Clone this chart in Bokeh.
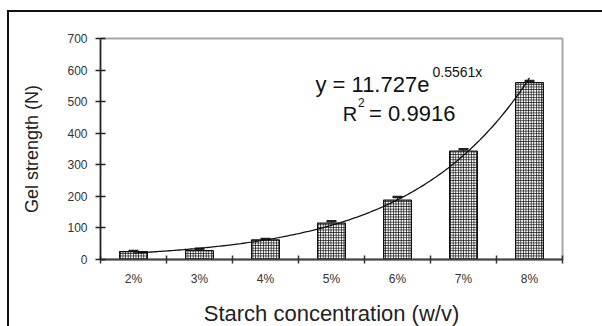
import numpy as np
from bokeh.plotting import figure
from bokeh.models import (ColumnDataSource, Range1d, FixedTicker, Whisker, TeeHead, Label)
from bokeh.embed import file_html
from bokeh.resources import INLINE

# ---- data ----
categories = ["2%", "3%", "4%", "5%", "6%", "7%", "8%"]
gel_strength = [25, 28, 62, 115, 188, 343, 560]
errors = [2, 6, 3, 6, 10, 6, 5]
y_ticks = [0, 100, 200, 300, 400, 500, 600, 700]
fit_a = 11.727
fit_b = 0.5561
r_squared = 0.9916

x_pos = list(range(1, len(categories) + 1))
upper = [v + e for v, e in zip(gel_strength, errors)]
src = ColumnDataSource(dict(x=x_pos, top=gel_strength, upper=upper))

FONT = "Liberation Sans"

p = figure(width=593, height=314, output_backend="svg", toolbar_location=None,
           x_range=Range1d(0.5, len(categories) + 0.5), y_range=Range1d(0, 700),
           min_border_left=91, min_border_right=42, min_border_top=26, min_border_bottom=68,
           background_fill_color="white", border_fill_color="white")
# outer frame of the figure: only its top and left edges fall inside the picture
p.margin = (10, 0, 0, 7)
p.styles = {"border-top": "2px solid #111", "border-left": "2px solid #111",
            "border-right": "none", "border-bottom": "none", "outline": "none",
            "box-sizing": "content-box"}

p.grid.visible = False
p.outline_line_color = "#a6a6a6"
p.outline_line_width = 2

# bars
p.vbar(x="x", top="top", width=0.42, source=src, fill_color="white",
       line_color="#111", line_width=1.3,
       hatch_pattern="+", hatch_scale=2.6, hatch_weight=0.85, hatch_color="#111")

# error bars
p.add_layout(Whisker(base="x", lower="top", upper="upper", source=src,
                     line_color="#111", line_width=1.2,
                     upper_head=TeeHead(size=10, line_width=2.5, line_color="#222"),
                     lower_head=None))

# exponential trendline from the fitted equation
xs = np.linspace(x_pos[0], x_pos[-1], 200)
p.line(xs, fit_a * np.exp(fit_b * xs), line_color="#111", line_width=1.3)

# equation labels
p.add_layout(Label(x=3.757, y=554, text="y = 11.727e", text_font=FONT,
                   text_font_size="22px", text_color="#111", text_baseline="alphabetic"))
p.add_layout(Label(x=5.53, y=595, text=f"{fit_b}x", text_font=FONT,
                   text_font_size="14px", text_color="#111", text_baseline="alphabetic"))
p.add_layout(Label(x=4.17, y=462, text="R", text_font=FONT,
                   text_font_size="20px", text_color="#111", text_baseline="alphabetic"))
p.add_layout(Label(x=4.40, y=497, text="2", text_font=FONT,
                   text_font_size="12px", text_color="#111", text_baseline="alphabetic"))
p.add_layout(Label(x=4.57, y=462, text=f"= {r_squared}", text_font=FONT,
                   text_font_size="22px", text_color="#111", text_baseline="alphabetic"))

# x axis
xa = p.xaxis[0]
xa.ticker = FixedTicker(ticks=x_pos, minor_ticks=[x - 0.5 for x in x_pos] + [x_pos[-1] + 0.5])
xa.major_label_overrides = {x: c for x, c in zip(x_pos, categories)}
xa.major_tick_line_color = None
xa.major_tick_in = 0
xa.major_tick_out = 4
xa.minor_tick_line_color = "#333"
xa.minor_tick_line_width = 1.5
xa.minor_tick_in = 4
xa.minor_tick_out = 4
xa.axis_line_color = "#444"
xa.axis_line_width = 2
xa.major_label_text_font = FONT
xa.major_label_text_font_size = "12px"
xa.major_label_text_color = "#333"
xa.major_label_standoff = 8
xa.axis_label = "Starch concentration (w/v)"
xa.axis_label_text_font = FONT
xa.axis_label_text_font_size = "22px"
xa.axis_label_text_font_style = "normal"
xa.axis_label_text_color = "#222"
xa.axis_label_standoff = 12

# y axis
ya = p.yaxis[0]
ya.ticker = FixedTicker(ticks=y_ticks, minor_ticks=[])
ya.major_tick_in = 5
ya.major_tick_out = 5
ya.major_tick_line_color = "#222"
ya.major_tick_line_width = 1.5
ya.axis_line_color = "#222"
ya.axis_line_width = 1.5
ya.major_label_text_font = FONT
ya.major_label_text_font_size = "12px"
ya.major_label_text_color = "#333"
ya.major_label_standoff = 8
ya.axis_label = "Gel strength (N)"
ya.axis_label_text_font = FONT
ya.axis_label_text_font_size = "18px"
ya.axis_label_text_font_style = "normal"
ya.axis_label_text_color = "#222"
ya.axis_label_standoff = 22

open("out.html", "w").write(file_html(p, INLINE))
